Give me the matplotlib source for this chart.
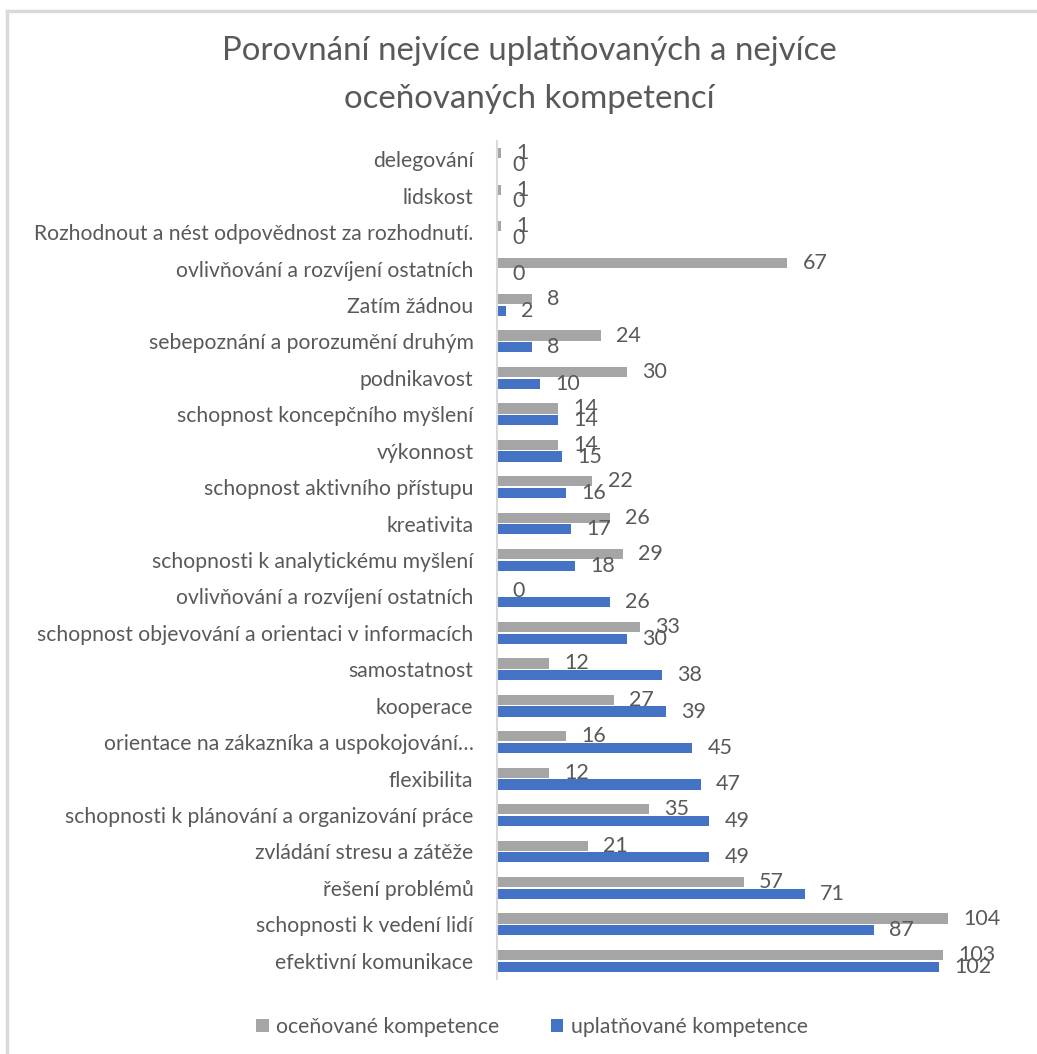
import matplotlib
matplotlib.use("Agg")
import matplotlib.pyplot as plt
from matplotlib.lines import Line2D
import numpy as np

plt.rcParams['font.family'] = ['Lato', 'DejaVu Sans']

# categories from bottom to top
categories = [
    "efektivní komunikace",
    "schopnosti k vedení lidí",
    "řešení problémů",
    "zvládání stresu a zátěže",
    "schopnosti k plánování a organizování práce",
    "flexibilita",
    "orientace na zákazníka a uspokojování…",
    "kooperace",
    "samostatnost",
    "schopnost objevování a orientaci v informacích",
    "ovlivňování a rozvíjení ostatních",
    "schopnosti k analytickému myšlení",
    "kreativita",
    "schopnost aktivního přístupu",
    "výkonnost",
    "schopnost koncepčního myšlení",
    "podnikavost",
    "sebepoznání a porozumění druhým",
    "Zatím žádnou",
    "ovlivňování a rozvíjení ostatních",
    "Rozhodnout a nést odpovědnost za rozhodnutí.",
    "lidskost",
    "delegování",
]
ocenovane = [103, 104, 57, 21, 35, 12, 16, 27, 12, 33, 0, 29, 26, 22, 14, 14, 30, 24, 8, 67, 1, 1, 1]
uplatnovane = [102, 87, 71, 49, 49, 47, 45, 39, 38, 30, 26, 18, 17, 16, 15, 14, 10, 8, 2, 0, 0, 0, 0]
series_names = ["oceňované kompetence", "uplatňované kompetence"]
title = "Porovnání nejvíce uplatňovaných a nejvíce\noceňovaných kompetencí"

GRAY = "#A5A5A5"
BLUE = "#4472C4"
TXT = "#595959"

W, H = 1037, 1054
fig = plt.figure(figsize=(W / 100, H / 100), dpi=100)
fig.patch.set_facecolor("white")

# frame lines (top and left)
fig.add_artist(Line2D([7 / W, 1], [1 - 11 / H, 1 - 11 / H], color="#D9D9D9", lw=2.5, transform=fig.transFigure))
fig.add_artist(Line2D([7 / W, 7 / W], [0, 1 - 11 / H], color="#D9D9D9", lw=2.5, transform=fig.transFigure))

left_px, right_px = 497, 1017
top_px, bot_px = 141, 979
ax = fig.add_axes([left_px / W, 1 - bot_px / H, (right_px - left_px) / W, (bot_px - top_px) / H])

y = np.arange(len(categories))
h = 0.28
off = 0.16
b1 = ax.barh(y + off, ocenovane, height=h, color=GRAY, label=series_names[0])
b2 = ax.barh(y - off, uplatnovane, height=h, color=BLUE, label=series_names[1])

for bars, vals in ((b1, ocenovane), (b2, uplatnovane)):
    for rect, v in zip(bars, vals):
        ax.annotate(str(v), (rect.get_width(), rect.get_y() + rect.get_height() / 2),
                    xytext=(11, 0), textcoords="offset points", ha="left", va="center",
                    fontsize=15.5, color=TXT)

ax.set_xlim(0, 120)
ax.set_ylim(-0.5, len(categories) - 0.5)
ax.set_yticks(y)
ax.set_yticklabels(categories, fontsize=15.2, color=TXT)
ax.tick_params(axis="y", length=0, pad=17)
ax.set_xticks([])
for s in ("top", "right", "bottom"):
    ax.spines[s].set_visible(False)
ax.spines["left"].set_color("#D9D9D9")
ax.spines["left"].set_linewidth(1.5)

fig.text(529 / W, 1 - 75 / H, title, ha="center", va="center", fontsize=23.8, color=TXT, linespacing=1.72)

fig.legend(handles=[b1, b2], labels=series_names, loc="center", bbox_to_anchor=(532 / W, 1 - 1027 / H),
           ncol=2, frameon=False, fontsize=15.3, labelcolor=TXT, handlelength=0.6, handleheight=0.6,
           handletextpad=0.35, columnspacing=2.4)

fig.savefig("out.png", dpi=100, facecolor="white")
